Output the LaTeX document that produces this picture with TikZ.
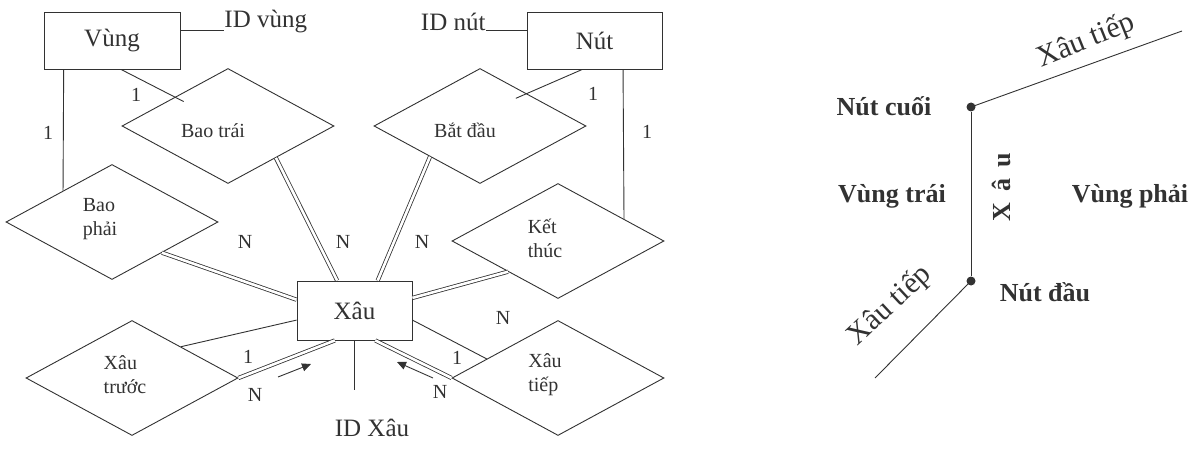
\documentclass[tikz,border=0pt]{standalone}
\usepackage{fontspec}
\setmainfont{Liberation Serif}
\usetikzlibrary{shapes.geometric,calc,arrows.meta}
\definecolor{ink}{RGB}{50,50,50}
\begin{document}
\begin{tikzpicture}[x=1pt,y=-1pt, color=ink, line width=0.9pt,
  entity/.style={draw, rectangle, inner sep=0pt, font=\fontsize{25}{28}\selectfont},
  rel/.style={draw, diamond, minimum width=212pt, minimum height=115pt, inner sep=0pt},
  reltext/.style={font=\fontsize{20}{24}\selectfont, align=left, inner sep=0pt},
  card/.style={font=\fontsize{20}{22}\selectfont, inner sep=0pt},
  attr/.style={font=\fontsize{25}{28}\selectfont, inner sep=0pt},
  dbl/.style={double distance=2.6pt, line width=0.8pt},
  flow/.style={line width=0.9pt, -{Triangle[length=9pt,width=8pt]}},
  lbl/.style={font=\bfseries\fontsize{26}{30}\selectfont, inner sep=0pt},
  slab/.style={font=\fontsize{30}{34}\selectfont, inner sep=0pt},
  dot/.style={circle, fill, inner sep=0pt, minimum size=9pt},
]
\useasboundingbox (0,0) rectangle (1201,449);

% entities
\node[entity, minimum width=136pt, minimum height=57pt] (v) at (112,40.5) {Vùng};
\node[entity, minimum width=135pt, minimum height=57pt] (n) at (594.5,40.5) {Nút};
\node[entity, minimum width=115pt, minimum height=59pt] (x) at (354.5,310.5) {Xâu};

% attributes
\node[attr, anchor=west] (idv) at (224,22) {ID vùng};
\node[attr, anchor=east] (idn) at (486,22) {ID nút};
\node[attr] (idx) at (372,428) {ID Xâu};
\coordinate (idxl) at (354.5,390);

% relationships
\node[rel] (bt) at (228,126) {};
\node[rel] (bd) at (480,126) {};
\node[rel] (bp) at (112,222) {};
\node[rel] (kt) at (558,241) {};
\node[rel] (xtr) at (132,378) {};
\node[rel] (xti) at (558,378) {};

\node[reltext] (btT) at (213,131) {Bao trái};
\node[reltext] (bdT) at (465,130) {Bắt đầu};
\node[reltext] (bpT) at (100,219) {Bao\\phải};
\node[reltext] (ktT) at (545,238) {Kết\\thúc};
\node[reltext] (xtrT) at (125,375) {Xâu\\trước};
\node[reltext] (xtiT) at (545,375) {Xâu\\tiếp};

% attribute lines
\draw ($(v.north east)!0.33!(v.south east)$) coordinate (vp) -- (idv.west |- vp);
\draw ($(n.north west)!0.32!(n.south west)$) coordinate (np) -- (idn.east |- np);
\draw (x.south) -- (idxl);

% entity - relationship lines
\draw ($(v.south west)!0.147!(v.south east)$) -- ($(bp.west)!0.54!(bp.north)$);
\draw[shorten >=-10pt] ($(v.south west)!0.566!(v.south east)$) -- ($(bt.west)!0.5!(bt.north)$);
\draw[shorten >=-12pt] ($(n.south west)!0.41!(n.south east)$) -- ($(bd.north)!0.44!(bd.east)$);
\draw ($(n.south west)!0.71!(n.south east)$) -- ($(kt.north)!0.62!(kt.east)$);

\draw[dbl] ($(bt.south)!0.45!(bt.east)$) -- ($(x.north west)!0.35!(x.north east)$);
\draw[dbl] ($(bd.south)!0.47!(bd.west)$) -- ($(x.north west)!0.70!(x.north east)$);
\draw[dbl] ($(bp.south)!0.47!(bp.east)$) -- ($(x.north west)!0.32!(x.south west)$);
\draw[dbl] ($(kt.west)!0.53!(kt.south)$) -- ($(x.north east)!0.29!(x.south east)$);
\draw ($(xtr.north)!0.46!(xtr.east)$) -- ($(x.north west)!0.66!(x.south west)$);
\draw[dbl] (xtr.east) -- ($(x.south west)!0.33!(x.south east)$);
\draw ($(x.north east)!0.66!(x.south east)$) -- ($(xti.west)!0.33!(xti.north)$);
\draw[dbl] ($(x.south west)!0.68!(x.south east)$) -- (xti.west);

% direction arrows
\coordinate (a1s) at (278,377); \coordinate (a1e) at (311,364);
\draw[flow] (a1s) -- (a1e);
\coordinate (a2s) at (433,378); \coordinate (a2e) at (397,362);
\draw[flow] (a2s) -- (a2e);

% cardinalities
\node[card] (c1) at (48,133) {1};
\node[card] (c2) at (136,95) {1};
\node[card] (c3) at (593,94) {1};
\node[card] (c4) at (647,132) {1};
\node[card] (c5) at (245,242) {N};
\node[card] (c6) at (343,242) {N};
\node[card] (c7) at (422,242) {N};
\node[card] (c8) at (248,357) {1};
\node[card] (c9) at (255,395) {N};
\node[card] (c10) at (457,358) {1};
\node[card] (c11) at (503,318) {N};
\node[card] (c12) at (440,392) {N};

% right figure
\node[dot] (nc) at (971,107) {};
\node[dot] (nd) at (971,281) {};
\coordinate (e1) at (1182,31);
\coordinate (e2) at (875,378);
\draw (nc.center) -- (e1);
\draw (nc) -- (nd);
\draw (nd.center) -- (e2);

\node[lbl] (tnc) at (884,106) {Nút cuối};
\node[lbl] (tvt) at (892,196) {Vùng trái};
\node[lbl] (tvp) at (1130,196) {Vùng phải};
\node[lbl] (tnd) at (1045,292) {Nút đầu};
\node[lbl, rotate=90] (txa) at (1001,187) {X\hspace{11pt}â\hspace{11pt}u};
\node[slab, rotate=22] (txt1) at (1086,41) {Xâu tiếp};
\node[slab, rotate=43] (txt2) at (890,306) {Xâu tiếp};
\end{tikzpicture}
\end{document}
